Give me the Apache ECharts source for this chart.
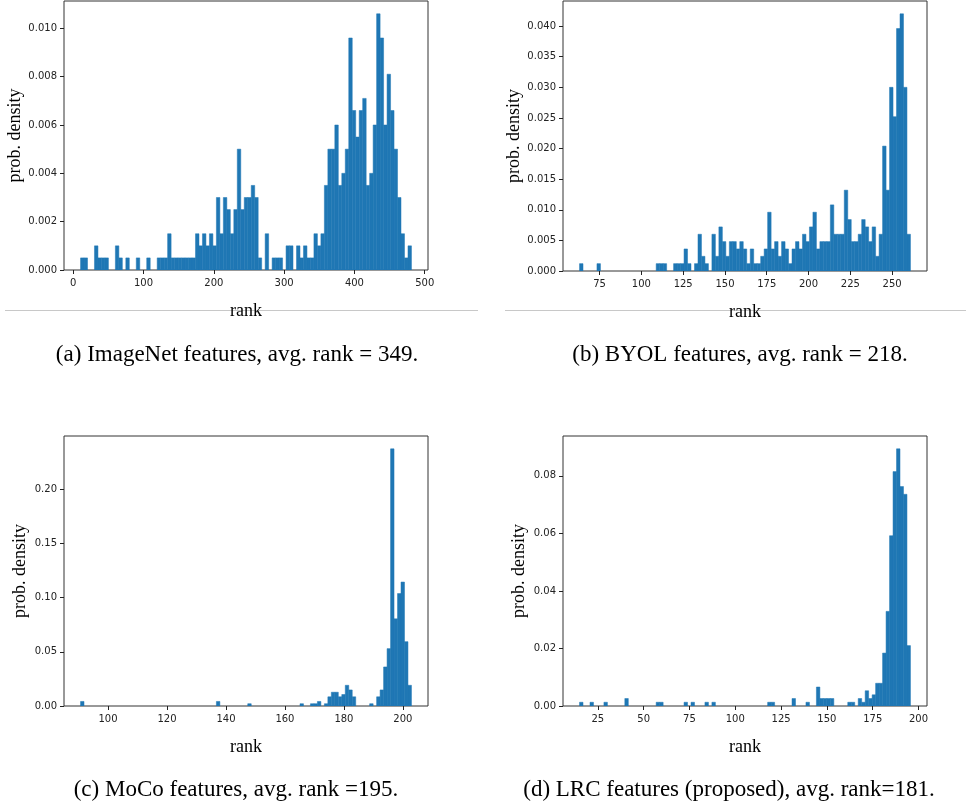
<!DOCTYPE html>
<html>
<head>
<meta charset="utf-8">
<script src="https://cdn.jsdelivr.net/npm/echarts@6.0.0/dist/echarts.min.js"></script>
<style>
	html,body{margin:0;padding:0;background:#fff;}
	#main{width:966px;height:805px;}
</style>
</head>
<body>
<div id="main"></div>
<script>
//直方图数据 (density=True, 每图 95 个 bin)
var startA = 10.4, widthA = 4.955;
var densA = [
	0.0005,0.0005,0,0,0.0010,0.0005,0.0005,0.0005,0,0,
	0.0010,0.0005,0,0.0005,0,0,0.0005,0,0,0.0005,
	0,0,0.0005,0.0005,0.0005,0.0015,0.0005,0.0005,0.0005,0.0005,
	0.0005,0.0005,0.0005,0.0015,0.0010,0.0015,0.0010,0.0015,0.0010,0.0030,
	0.0015,0.0030,0.0025,0.0015,0.0025,0.0050,0.0025,0.0030,0.0030,0.0035,
	0.0030,0.0005,0,0.0015,0,0.0005,0.0005,0.0005,0,0.0010,
	0.0010,0,0.0010,0.0005,0.0010,0.0005,0.0005,0.0015,0.0010,0.0015,
	0.0035,0.0050,0.0050,0.0060,0.0035,0.0040,0.0050,0.0096,0.0066,0.0055,
	0.0066,0.0071,0.0035,0.0040,0.0060,0.0106,0.0096,0.0060,0.0081,0.0066,
	0.0050,0.0030,0.0015,0.0005,0.0010
];
var startB = 63.0, widthB = 2.084;
var densB = [
	0.0012,0,0,0,0,0.0012,0,0,0,0,
	0,0,0,0,0,0,0,0,0,0,
	0,0,0.0012,0.0012,0.0012,0,0,0.0012,0.0012,0.0012,
	0.0036,0.0012,0,0.0012,0.0060,0.0024,0.0012,0,0.0060,0.0024,
	0.0072,0.0048,0.0024,0.0048,0.0048,0.0036,0.0048,0.0036,0.0012,0.0036,
	0.0012,0.0012,0.0024,0.0036,0.0096,0.0036,0.0048,0.0024,0.0048,0.0036,
	0.0012,0.0036,0.0048,0.0036,0.0060,0.0048,0.0072,0.0096,0.0036,0.0048,
	0.0048,0.0048,0.0108,0.0060,0.0060,0.0060,0.0132,0.0084,0.0048,0.0048,
	0.0060,0.0084,0.0072,0.0048,0.0072,0.0024,0.0060,0.0204,0.0132,0.0300,
	0.0252,0.0396,0.0420,0.0300,0.0060
];
var startC = 90.7, widthC = 1.181;
var densC = [
	0.0042,0,0,0,0,0,0,0,0,0,
	0,0,0,0,0,0,0,0,0,0,
	0,0,0,0,0,0,0,0,0,0,
	0,0,0,0,0,0,0,0,0,0.0042,
	0,0,0,0,0,0,0,0,0.0021,0,
	0,0,0,0,0,0,0,0,0,0,
	0,0,0,0.0021,0,0,0.0021,0.0021,0.0042,0,
	0.0021,0.0085,0.0127,0.0127,0.0085,0.0106,0.0191,0.0148,0.0085,0,
	0,0,0,0.0021,0,0.0085,0.0148,0.0360,0.0529,0.2371,
	0.0804,0.1037,0.1143,0.0593,0.0191
];
var startD = 15.0, widthD = 1.901;
var densD = [
	0.0013,0,0,0.0013,0,0,0,0.0013,0,0,
	0,0,0,0.0026,0,0,0,0,0,0,
	0,0,0.0013,0.0013,0,0,0,0,0,0,
	0.0013,0,0.0013,0,0,0,0.0013,0,0.0013,0,
	0,0,0,0,0,0,0,0,0,0,
	0,0,0,0,0.0013,0.0013,0,0,0,0,
	0,0.0026,0,0,0,0.0013,0,0,0.0066,0.0026,
	0.0026,0.0026,0.0026,0,0,0,0,0.0013,0.0013,0,
	0.0026,0.0013,0.0053,0.0026,0.0039,0.0079,0.0079,0.0184,0.0329,0.0592,
	0.0815,0.0894,0.0763,0.0736,0.0210
];
//刻度
var ticksXA = [0,100,200,300,400,500];
var ticksYA = [0,0.002,0.004,0.006,0.008,0.010];
var ticksXB = [75,100,125,150,175,200,225,250];
var ticksYB = [0,0.005,0.010,0.015,0.020,0.025,0.030,0.035,0.040];
var ticksXC = [100,120,140,160,180,200];
var ticksYC = [0,0.05,0.10,0.15,0.20];
var ticksXD = [25,50,75,100,125,150,175,200];
var ticksYD = [0,0.02,0.04,0.06,0.08];
var captions = [
	"(a) ImageNet features, avg. rank = 349.",
	"(b) BYOL features, avg. rank = 218.",
	"(c) MoCo features, avg. rank =195.",
	"(d) LRC features (proposed), avg. rank=181."
];

var panels = [
	{start:startA, w:widthA, d:densA, xt:ticksXA, yt:ticksYA, dec:3, box:{left:64, top:1, width:364, height:269}, cap:[237,355]},
	{start:startB, w:widthB, d:densB, xt:ticksXB, yt:ticksYB, dec:3, box:{left:563, top:1, width:364, height:270}, cap:[740,355]},
	{start:startC, w:widthC, d:densC, xt:ticksXC, yt:ticksYC, dec:2, box:{left:64, top:436, width:364, height:270}, cap:[236,790]},
	{start:startD, w:widthD, d:densD, xt:ticksXD, yt:ticksYD, dec:2, box:{left:563, top:436, width:364, height:270}, cap:[729,790]}
];

function makeBars(start, w, dens) {
	var out = [];
	for (var i = 0; i < dens.length; i++) {
		if (dens[i] > 0) out.push([start + i * w, start + (i + 1) * w, dens[i]]);
	}
	return out;
}

function renderBar(params, api) {
	var p0 = api.coord([api.value(0), api.value(2)]);
	var p1 = api.coord([api.value(1), 0]);
	return {
		type: "rect",
		shape: {x: p0[0], y: p0[1], width: p1[0] - p0[0], height: p1[1] - p0[1]},
		style: {fill: "#1f77b4", stroke: "#1f77b4", lineWidth: 0.5}
	};
}

var serif = "Liberation Serif";
var grids = [], xAxes = [], yAxes = [], series = [], graphics = [];

panels.forEach(function(p, k) {
	var end = p.start + p.d.length * p.w;
	var pad = (end - p.start) * 0.05; //matplotlib 默认边距
	var dec = p.dec;
	grids.push(Object.assign({show: true, borderColor: "#333", borderWidth: 1, backgroundColor: "transparent", outerBoundsMode: "none", containLabel: false}, p.box));
	xAxes.push({
		type: "value", gridIndex: k, min: p.start - pad, max: end + pad,
		name: "rank", nameLocation: "middle", nameGap: 32,
		nameTextStyle: {fontFamily: serif, fontSize: 18, color: "#000"},
		axisLine: {show: false, onZero: false},
		axisTick: {show: true, length: 4, customValues: p.xt, lineStyle: {color: "#222"}},
		axisLabel: {customValues: p.xt, margin: 8, fontFamily: "DejaVu Sans", fontSize: 10, color: "#222"},
		splitLine: {show: false}
	});
	yAxes.push({
		type: "value", gridIndex: k, min: 0, max: Math.max.apply(null, p.d) * 1.05,
		name: "prob. density", nameLocation: "middle", nameGap: 35, nameRotate: 90,
		nameTextStyle: {fontFamily: serif, fontSize: 18, color: "#000"},
		axisLine: {show: false, onZero: false},
		axisTick: {show: true, length: 4, customValues: p.yt, lineStyle: {color: "#222"}},
		axisLabel: {customValues: p.yt, margin: 7, fontFamily: "DejaVu Sans", fontSize: 10, color: "#222",
			formatter: function(v) { return v.toFixed(dec); }},
		splitLine: {show: false}
	});
	series.push({
		type: "custom", xAxisIndex: k, yAxisIndex: k, clip: true,
		renderItem: renderBar, encode: {x: [0, 1], y: 2},
		data: makeBars(p.start, p.w, p.d)
	});
	graphics.push({
		type: "text", x: p.cap[0], y: p.cap[1],
		style: {text: captions[k], font: "23px '" + serif + "'", fill: "#000",
			align: "center", verticalAlign: "middle", textAlign: "center", textVerticalAlign: "middle"}
	});
});

//上排的灰色分隔线
graphics.push({type: "line", z: -1, shape: {x1: 5, y1: 310.5, x2: 478, y2: 310.5}, style: {stroke: "#c8c8c8", lineWidth: 1}});
graphics.push({type: "line", z: -1, shape: {x1: 505, y1: 310.5, x2: 966, y2: 310.5}, style: {stroke: "#c8c8c8", lineWidth: 1}});

var myChart = echarts.init(document.getElementById("main"));
myChart.setOption({
	animation: false,
	backgroundColor: "#fff",
	grid: grids,
	xAxis: xAxes,
	yAxis: yAxes,
	series: series,
	graphic: graphics
});
</script>
</body>
</html>
